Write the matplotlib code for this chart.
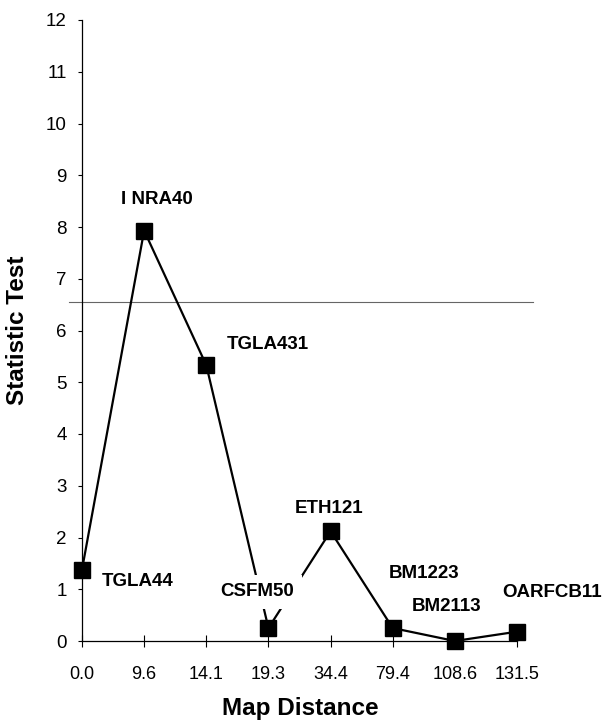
import matplotlib
matplotlib.use("Agg")
import matplotlib.pyplot as plt
from matplotlib.lines import Line2D

plt.rcParams['font.family'] = ['Liberation Sans', 'DejaVu Sans']

# Data
tick_labels = ["0.0", "9.6", "14.1", "19.3", "34.4", "79.4", "108.6", "131.5"]
markers = ["TGLA44", "I NRA40", "TGLA431", "CSFM50", "ETH121", "BM1223", "BM2113", "OARFCB11"]
values = [1.38, 7.93, 5.33, 0.25, 2.12, 0.25, 0.0, 0.18]
threshold = 6.56

# label placements (data coords, left edge x, center y)
label_x = [0.31, 0.62, 2.33, 2.22, 3.43, 4.94, 5.30, 6.76]
label_y = [1.15, 8.53, 5.73, 0.95, 2.57, 1.31, 0.66, 0.93]
occluding = [False, False, False, True, False, False, False, False]

fig = plt.figure(figsize=(6.16, 7.22), dpi=100)
L, R, B, T = 82/616, 517/616, (722-641)/722, (722-20)/722
ax = fig.add_axes([L, B, R-L, T-B])

xs = list(range(len(values)))
ax.plot(xs, values, color='black', lw=1.6, zorder=2, clip_on=False)
ax.plot(xs, values, linestyle='none', marker='s', markersize=11,
        color='black', zorder=5, clip_on=False)

ax.add_line(Line2D([-0.03, 1.037], [threshold, threshold], color='#666666', lw=0.8,
                   transform=ax.get_yaxis_transform(), clip_on=False, zorder=1))

for name, lx, ly, occ in zip(markers, label_x, label_y, occluding):
    kw = {}
    if occ:
        kw['bbox'] = dict(boxstyle='square,pad=0.45', fc='white', ec='none')
    ax.text(lx, ly, name, fontsize=13.5, fontweight='bold', ha='left', va='center',
            zorder=3, clip_on=False, **kw)

ax.set_xlim(0, 7)
ax.set_ylim(0, 12)
ax.set_xticks(xs)
ax.set_xticklabels(tick_labels)
ax.set_yticks(range(0, 13))
ax.tick_params(axis='x', direction='inout', length=8, width=0.8, labelsize=13, pad=14)
ax.tick_params(axis='y', direction='out', length=3, width=0.8, labelsize=13.5, pad=8)
for s in ['top', 'right']:
    ax.spines[s].set_visible(False)
for s in ['left', 'bottom']:
    ax.spines[s].set_linewidth(0.9)

fig.text(18/616, 1 - 330/722, 'Statistic Test', rotation=90, fontsize=17.5,
         fontweight='bold', ha='center', va='center')
fig.text(300/616, 1 - 708/722, 'Map Distance', fontsize=17.5,
         fontweight='bold', ha='center', va='center')

fig.savefig('out.png', dpi=100)
